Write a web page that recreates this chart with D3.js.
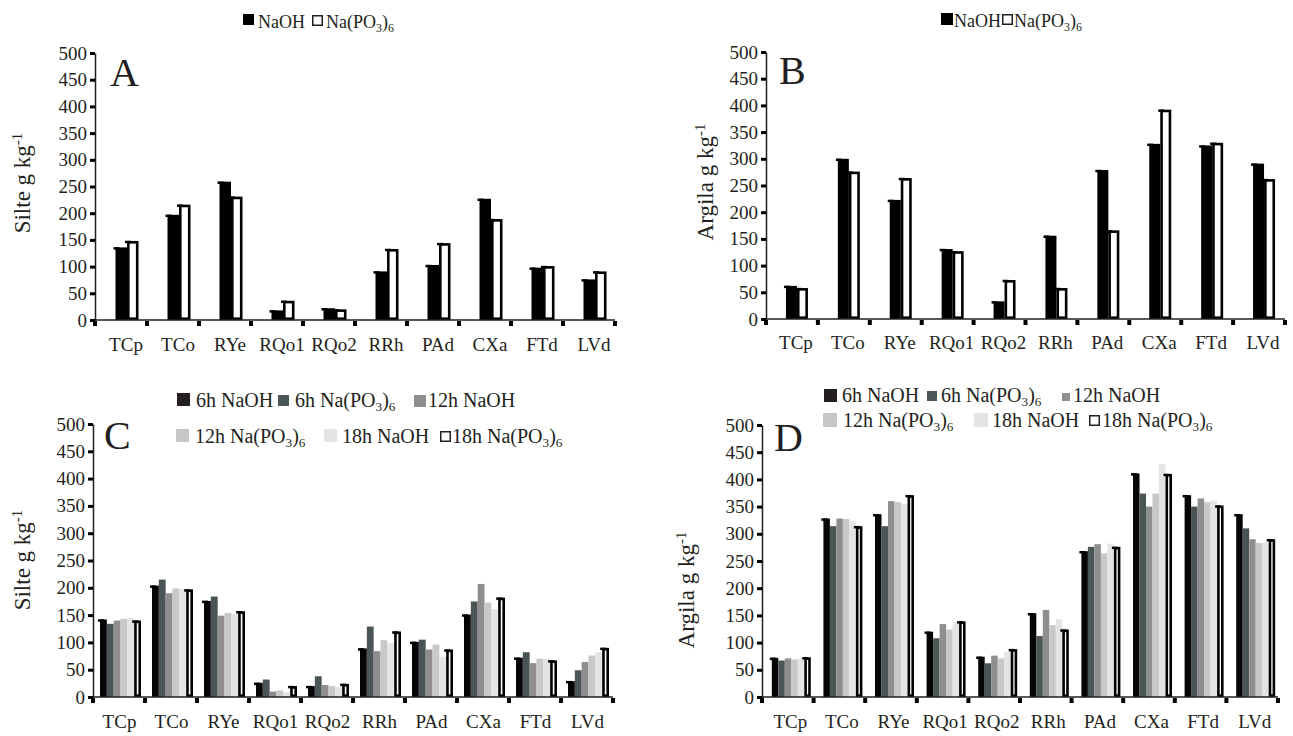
<!DOCTYPE html>
<html>
<head>
<meta charset="utf-8">
<script src="https://cdn.jsdelivr.net/npm/d3@7"></script>
<style>
body { margin: 0; background: #fff; }
svg text { font-family: "Liberation Serif", "Times New Roman", serif; fill: #231f20; }
</style>
</head>
<body>
<script>
var categories = ['TCp', 'TCo', 'RYe', 'RQo1', 'RQo2', 'RRh', 'PAd', 'CXa', 'FTd', 'LVd'];
var yTicks = [0, 50, 100, 150, 200, 250, 300, 350, 400, 450, 500];

// A and B: one extraction, two dispersants
var seriesAB = ['NaOH', 'Na(PO3)6'];
var siltNaOH = [136, 197, 259, 18, 22, 91, 103, 227, 98, 76];
var siltNaPO = [148, 216, 231, 36, 20, 133, 144, 189, 101, 91];
var argilaNaOH = [62, 300, 223, 131, 33, 156, 279, 328, 325, 291];
var argilaNaPO = [58, 276, 264, 127, 73, 58, 166, 392, 330, 262];

// C and D: agitation time x dispersant
var seriesCD = ['6h NaOH', '6h Na(PO3)6', '12h NaOH', '12h Na(PO3)6', '18h NaOH', '18h Na(PO3)6'];
var silt6hNaOH = [142, 204, 176, 26, 20, 89, 101, 151, 72, 29];
var silt6hNaPO = [134, 215, 184, 32, 38, 129, 105, 175, 82, 49];
var silt12hNaOH = [140, 190, 149, 10, 22, 84, 87, 207, 62, 64];
var silt12hNaPO = [143, 199, 154, 12, 20, 104, 96, 173, 70, 76];
var silt18hNaOH = [145, 198, 152, 9, 18, 99, 74, 161, 70, 82];
var silt18hNaPO = [140, 197, 157, 20, 24, 120, 87, 182, 67, 90];
var argila6hNaOH = [72, 328, 336, 120, 74, 154, 268, 411, 371, 336];
var argila6hNaPO = [67, 314, 314, 108, 62, 112, 276, 374, 350, 310];
var argila12hNaOH = [71, 328, 360, 134, 76, 160, 281, 350, 365, 290];
var argila12hNaPO = [69, 327, 358, 124, 71, 132, 264, 374, 358, 283];
var argila18hNaOH = [71, 323, 355, 138, 83, 143, 282, 428, 361, 284];
var argila18hNaPO = [73, 314, 371, 139, 88, 124, 276, 410, 352, 290];

var fillsAB = ['#000', '#fff'];
var fillsCD = ['#050505', '#4b5555', '#8e8e8e', '#c8c8c8', '#e4e4e4', '#fff'];
var legendFillsCD = ['#231f20', '#4d5656', '#8f8f8f', '#c6c6c6', '#e4e4e4', '#fff'];

var panels = [
    { letter: 'A', title: 'Silte', left: 95, right: 615, top: 53, bottom: 320, groupW: 23, shift: 6,
      series: seriesAB, values: [siltNaOH, siltNaPO], fills: fillsAB, lfills: ['#000', '#fff'],
      ylab: [22, 183], letterPos: [110, 86], xlabY: 351, legendSize: 18,
      legend: [[243, 14, 11, 258, 28], [312, 15, 11, 326, 28]] },
    { letter: 'B', title: 'Argila', left: 766, right: 1285, top: 52, bottom: 319, groupW: 22, shift: 5,
      series: seriesAB, values: [argilaNaOH, argilaNaPO], fills: fillsAB, lfills: ['#000', '#fff'],
      ylab: [705, 182], letterPos: [779, 84], xlabY: 349, legendSize: 18,
      legend: [[941, 13, 12, 954, 27], [1002, 14, 11, 1014, 27]] },
    { letter: 'C', title: 'Silte', left: 93, right: 613, top: 424, bottom: 697, groupW: 41, shift: 1.5,
      series: seriesCD,
      values: [silt6hNaOH, silt6hNaPO, silt12hNaOH, silt12hNaPO, silt18hNaOH, silt18hNaPO],
      fills: fillsCD, lfills: legendFillsCD,
      ylab: [22, 560], letterPos: [104, 449], xlabY: 728, legendSize: 20,
      legend: [[177, 393, 13, 196, 407], [278, 395, 11, 295, 407], [414, 395, 12, 428, 407],
               [176, 429, 13, 195, 443], [324, 429, 13, 342, 443], [440, 431, 11, 452, 443]] },
    { letter: 'D', title: 'Argila', left: 762, right: 1278, top: 425, bottom: 697, groupW: 39, shift: 3.5,
      series: seriesCD,
      values: [argila6hNaOH, argila6hNaPO, argila12hNaOH, argila12hNaPO, argila18hNaOH, argila18hNaPO],
      fills: fillsCD, lfills: legendFillsCD,
      ylab: [686, 590], letterPos: [774, 451], xlabY: 728, legendSize: 20,
      legend: [[824, 389, 13, 842, 402], [927, 391, 10, 941, 402], [1062, 393, 8, 1073, 402],
               [823, 413, 14, 843, 427], [974, 413, 14, 992, 427], [1089, 415, 11, 1102, 427]] }
];

var svg = d3.select('body').append('svg')
    .attr('width', 1293)
    .attr('height', 736);

// writes "Na(PO3)6" with lowered subscripts
var writeLabel = function (sel, str, size) {
    var k = str.indexOf('Na(PO3)6');
    if (k < 0) { sel.text(str); return; }
    var sub = Math.round(size * 0.22);
    sel.append('tspan').text(str.slice(0, k) + 'Na(PO');
    sel.append('tspan').attr('dy', sub).style('font-size', (size * 0.66) + 'px').text('3');
    sel.append('tspan').attr('dy', -sub).text(')');
    sel.append('tspan').attr('dy', sub).style('font-size', (size * 0.66) + 'px').text('6');
};

panels.forEach(function (p) {
    var g = svg.append('g');

    var x = d3.scaleBand().domain(categories).range([p.left, p.right]).padding(0);
    var y = d3.scaleLinear().domain([0, 500]).range([p.bottom, p.top]);
    var xs = d3.scaleBand().domain(p.series).range([0, p.groupW]).padding(0);
    var groupStart = function (c) {
        return x(c) + x.bandwidth() / 2 - p.groupW / 2 + p.shift;
    };

    // bars
    p.series.forEach(function (s, si) {
        var open = p.fills[si] === '#fff';
        var vals = p.values[si];
        var sw = open ? 2.6 : 0;
        g.selectAll(null)
            .data(categories)
            .enter().append('rect')
            .attr('x', function (c) { return groupStart(c) + xs(s) + sw / 2; })
            .attr('y', function (c, i) { return y(vals[i]) + sw / 2; })
            .attr('width', xs.bandwidth() - sw)
            .attr('height', function (c, i) { return Math.max(0, y(0) - y(vals[i]) - sw); })
            .attr('fill', p.fills[si])
            .attr('stroke', open ? '#000' : 'none')
            .attr('stroke-width', sw);

        // little error caps on the NaOH and last Na(PO3)6 bars
        if (si === 0 || si === p.series.length - 1) {
            g.selectAll(null)
                .data(categories)
                .enter().append('line')
                .attr('x1', function (c) { return groupStart(c) + xs(s) - 2; })
                .attr('x2', function (c) { return groupStart(c) + xs(s) + 4; })
                .attr('y1', function (c, i) { return y(vals[i]) + 1; })
                .attr('y2', function (c, i) { return y(vals[i]) + 1; })
                .attr('stroke', '#000')
                .attr('stroke-width', 2.5);
        }
    });

    // y axis
    var yAxis = d3.axisLeft(y).tickValues(yTicks).tickSize(5).tickSizeOuter(0).tickPadding(3);
    var ya = g.append('g')
        .attr('transform', 'translate(' + p.left + ',0)')
        .call(yAxis);
    ya.select('.domain').attr('stroke', '#231f20').attr('stroke-width', 1.5);
    ya.selectAll('.tick line').attr('stroke', '#000').attr('stroke-width', 3);
    ya.selectAll('.tick text')
        .style('font-family', '"Liberation Serif", serif')
        .style('font-size', '19px')
        .attr('fill', '#231f20');

    // x axis line + boundary ticks
    g.append('line')
        .attr('x1', p.left).attr('x2', p.right)
        .attr('y1', y(0)).attr('y2', y(0))
        .attr('stroke', '#231f20').attr('stroke-width', 1.5);
    var bounds = categories.map(function (c) { return x(c); }).concat([p.right]);
    g.selectAll(null)
        .data(bounds)
        .enter().append('rect')
        .attr('x', function (d) { return d - 2; })
        .attr('y', y(0) + 1)
        .attr('width', 4)
        .attr('height', 5)
        .attr('fill', '#000');

    g.selectAll(null)
        .data(categories)
        .enter().append('text')
        .attr('x', function (c) { return x(c) + x.bandwidth() / 2 + p.shift - 1; })
        .attr('y', p.xlabY)
        .attr('text-anchor', 'middle')
        .style('font-size', '19px')
        .text(function (c) { return c; });

    // y title
    var yt = g.append('text')
        .attr('transform', 'translate(' + p.ylab[0] + ',' + p.ylab[1] + ') rotate(-90)')
        .attr('text-anchor', 'middle')
        .attr('dy', '0.35em')
        .style('font-size', '23px');
    yt.append('tspan').text(p.title + ' g kg');
    yt.append('tspan').attr('dy', -8).style('font-size', '15px').text('-1');

    // panel letter
    g.append('text')
        .attr('x', p.letterPos[0]).attr('y', p.letterPos[1])
        .style('font-size', '40px')
        .text(p.letter);

    // legend
    p.series.forEach(function (s, si) {
        var L = p.legend[si];
        var open = p.lfills[si] === '#fff';
        g.append('rect')
            .attr('x', L[0] + (open ? 0.75 : 0)).attr('y', L[1] + (open ? 0.75 : 0))
            .attr('width', L[2] - (open ? 1.5 : 0)).attr('height', L[2] - (open ? 1.5 : 0))
            .attr('fill', p.lfills[si])
            .attr('stroke', open ? '#231f20' : 'none')
            .attr('stroke-width', 1.5);
        var t = g.append('text')
            .attr('x', L[3]).attr('y', L[4])
            .style('font-size', p.legendSize + 'px');
        writeLabel(t, s, p.legendSize);
    });
});
</script>
</body>
</html>
